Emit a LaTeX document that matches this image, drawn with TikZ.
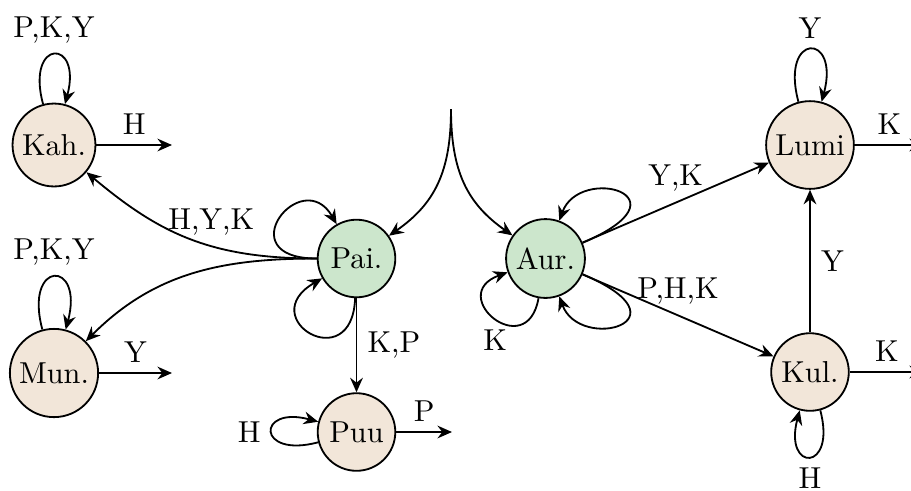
\documentclass[tikz,border=0pt]{standalone}
\usetikzlibrary{arrows.meta}
\definecolor{stbeige}{RGB}{242,230,217}
\definecolor{stgreen}{RGB}{204,230,204}
\begin{document}
\begin{tikzpicture}[x=0.33pt,y=-0.33pt,
  state/.style={circle,draw,semithick,minimum size=9mm,inner sep=2pt,fill=stbeige},
  initst/.style={state,fill=stgreen},
  edge/.style={semithick,-{Stealth[length=4.8pt,width=4.2pt,inset=1.6pt]}}]
\useasboundingbox (0,0) rectangle (911,490);
% nodes
\node[state] (kah) at (54,145) {Kah.};
\node[state] (mun) at (54,373) {Mun.};
\node[initst] (pai) at (356.5,258.5) {Pai.};
\node[state] (puu) at (356.5,432) {Puu};
\node[initst] (aur) at (545.5,258.5) {Aur.};
\node[state] (lumi) at (810,145) {Lumi};
\node[state] (kul) at (810,372) {Kul.};
\coordinate (start) at (451,109);
\coordinate (kahout) at (172,145);
\coordinate (munout) at (172,373);
\coordinate (puuout) at (452,432);
\coordinate (lumiout) at (924,145);
\coordinate (kulout) at (924,372);
% initial
\draw[edge] (start) to[out=-90,in=35,out looseness=1.15] (pai);
\draw[edge] (start) to[out=-90,in=145,out looseness=1.15] (aur);
% Pai edges
\draw[edge] (pai) to[out=180,in=-40,out looseness=1.1] node[pos=0.4,above] {H,Y,K} (kah);
\draw[edge] (pai) to[out=180,in=45] (mun);
\draw[edge] (pai) to[out=180,in=120,out distance=29.7pt,in distance=23pt] (pai);
\draw[edge] (pai) to[out=-92,in=210,out distance=26.4pt,in distance=26.4pt] (pai);
\draw[edge] (pai) -- node[right] {K,P} (puu);
% Aur edges
\draw[edge] (aur) -- node[above] {Y,K} (lumi);
\draw[edge] (aur) -- node[above] {P,H,K} (kul);
\draw[edge] (aur) to[out=23,in=70,out distance=39.6pt,in distance=19.8pt] (aur);
\draw[edge] (aur) to[out=-23,in=-70,out distance=39.6pt,in distance=19.8pt] (aur);
\draw[edge] (aur) to[out=-100,in=200,distance=22pt] node[below] {K} (aur);
\draw[edge] (kul) -- node[right] {Y} (lumi);
% loops on final states
\draw[edge] (kah) to[out=105,in=75,looseness=8,min distance=5mm] node[above] {P,K,Y} (kah);
\draw[edge] (mun) to[out=105,in=75,looseness=8,min distance=5mm] node[above] {P,K,Y} (mun);
\draw[edge] (lumi) to[out=105,in=75,looseness=8,min distance=5mm] node[above] {Y} (lumi);
\draw[edge] (kul) to[out=285,in=255,looseness=8,min distance=5mm] node[below] {H} (kul);
\draw[edge] (puu) to[out=195,in=165,looseness=8,min distance=5mm] node[left] {H} (puu);
% outputs
\draw[edge] (kah) -- node[above] {H} (kahout);
\draw[edge] (mun) -- node[above] {Y} (munout);
\draw[edge] (puu) -- node[above] {P} (puuout);
\draw[edge] (lumi) -- node[above] {K} (lumiout);
\draw[edge] (kul) -- node[above] {K} (kulout);
\end{tikzpicture}
\end{document}
